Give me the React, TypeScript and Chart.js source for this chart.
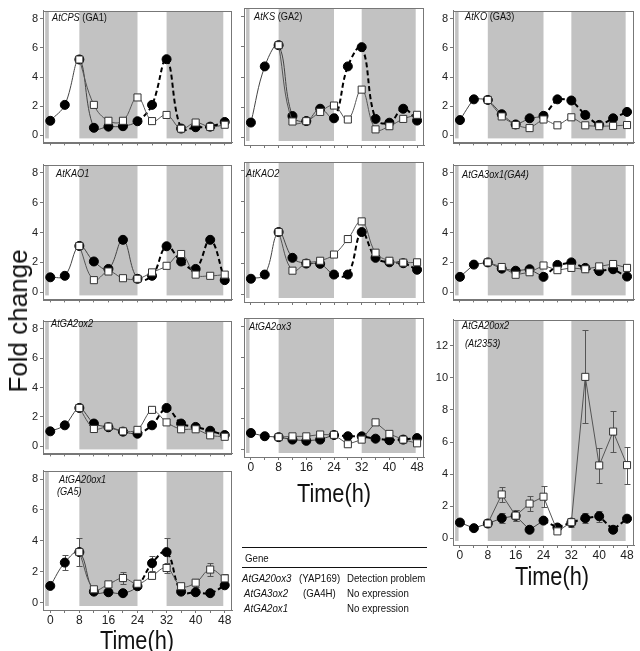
import React, { useEffect, useRef } from "react";
import { Chart, registerables } from "chart.js";
Chart.register(...registerables);

// ---------- data ----------
const hours = [0, 4, 8, 12, 16, 20, 24, 28, 32, 36, 40, 44, 48];
const hoursFrom8 = [8, 12, 16, 20, 24, 28, 32, 36, 40, 44, 48];
const xLabelHours = [0, 8, 16, 24, 32, 40, 48];
const yTicksLow = [0, 2, 4, 6, 8];
const yTicksHigh = [0, 2, 4, 6, 8, 10, 12];
const darkPeriods: [number, number][] = [[-1.4, -0.4], [8, 24], [32, 47.6]];
const dashedFrom = 24;

const cpsCircle = [1.0, 2.09, 5.2, 0.52, 0.6, 0.63, 0.97, 2.09, 5.22, 0.47, 0.56, 0.6, 0.92];
const cpsSquare = [5.2, 2.09, 1.0, 1.0, 2.6, 0.98, 1.4, 0.46, 0.88, 0.58, 0.73];

const ksCircle = [1.0, 4.7, 6.1, 1.43, 1.1, 1.91, 1.28, 4.7, 5.97, 1.24, 0.99, 1.91, 1.13];
const ksSquare = [6.1, 1.07, 1.09, 1.7, 2.12, 1.2, 3.17, 0.55, 0.76, 1.24, 1.51];

const koCircle = [1.05, 2.47, 2.43, 1.45, 0.75, 1.17, 1.34, 2.47, 2.39, 1.4, 0.72, 1.17, 1.61];
const koSquare = [2.43, 1.3, 0.71, 0.5, 1.09, 0.69, 1.24, 0.69, 0.63, 0.65, 0.71];

const kao1Circle = [1.0, 1.1, 3.1, 2.06, 1.56, 3.51, 0.9, 1.1, 3.08, 2.06, 1.56, 3.51, 0.81];
const kao1Square = [3.1, 0.81, 1.39, 0.94, 0.9, 1.33, 1.77, 2.56, 1.18, 1.1, 1.18];

const kao2Circle = [1.02, 1.29, 4.03, 2.37, 2.0, 1.98, 1.29, 1.29, 4.03, 2.37, 2.08, 2.02, 1.6];
const kao2Square = [4.03, 1.54, 2.02, 2.18, 2.58, 3.58, 4.72, 2.7, 2.18, 2.06, 2.08];

const ga3ox1Circle = [1.03, 1.85, 2.0, 1.58, 1.44, 1.54, 1.03, 1.83, 2.0, 1.63, 1.42, 1.54, 1.05];
const ga3ox1Square = [2.0, 1.69, 1.17, 1.34, 1.79, 1.48, 1.63, 1.54, 1.73, 1.89, 1.63];

const ga2ox2Circle = [1.02, 1.43, 2.61, 1.55, 1.3, 1.0, 0.86, 1.43, 2.61, 1.55, 1.32, 1.06, 0.77];
const ga2ox2Square = [2.61, 1.18, 1.34, 1.02, 1.12, 2.48, 1.63, 1.16, 1.16, 0.75, 0.65];

const ga2ox3Circle = [1.08, 0.87, 0.81, 0.65, 0.57, 0.65, 0.95, 0.87, 0.86, 0.71, 0.61, 0.65, 0.75];
const ga2ox3Square = [0.81, 0.86, 0.86, 0.98, 0.96, 0.35, 0.65, 1.77, 1.02, 0.65, 0.41];

const ga20ox1Circle = [1.08, 2.59, 3.27, 0.71, 0.67, 0.61, 1.06, 2.55, 3.27, 0.71, 0.67, 0.61, 1.12];
const ga20ox1CircleErr = [null, 0.47, null, null, null, null, null, 0.49, 0.92, null, null, null, null];
const ga20ox1Square = [3.27, 0.86, 1.18, 1.59, 1.22, 1.73, 2.24, 1.06, 1.29, 2.14, 1.57];
const ga20ox1SquareErr = [0.92, null, 0.15, 0.39, null, null, 0.3, null, 0.25, 0.41, 0.3];

const ga20ox2Circle = [0.98, 0.63, 0.92, 1.25, 1.4, 0.53, 1.1, 0.67, 0.98, 1.25, 1.37, 0.53, 1.22];
const ga20ox2CircleErr = [null, null, null, 0.3, 0.35, null, null, 0.15, 0.3, 0.3, 0.35, null, 0.1];
const ga20ox2Square = [0.92, 2.73, 1.41, 2.16, 2.59, 0.43, 1.0, 10.06, 4.54, 6.65, 4.56];
const ga20ox2SquareErr = [null, 0.45, 0.35, 0.45, 0.65, null, null, 2.9, 1.1, 1.3, 1.15];

// ---------- layout ----------
type Box = { L: number; R: number; T: number; B: number };
type PanelDef = {
  circle: number[];
  square: number[];
  circleErr?: (number | null)[];
  squareErr?: (number | null)[];
  tension: number;
  yMin: number;
  yMax: number;
  yTicks: number[];
  yLabels: boolean;
  xLabels: boolean;
  box: Box;
};

const C1 = { L: 43, R: 237 };
const C2 = { L: 242, R: 429 };
const C3 = { L: 453, R: 639 };
const R1 = { T: 3, B: 146 };
const R2 = { T: 157, B: 303 };
const R3 = { T: 313, B: 457 };

const low = { yMin: -0.48, yMax: 8.55, yTicks: yTicksLow };

const panels: PanelDef[] = [
  { circle: cpsCircle, square: cpsSquare, tension: 0.4, ...low, yLabels: true, xLabels: false, box: { ...C1, ...R1 } },
  { circle: ksCircle, square: ksSquare, tension: 0.4, ...low, yLabels: false, xLabels: false, box: { ...C2, ...R1 } },
  { circle: koCircle, square: koSquare, tension: 0.15, ...low, yLabels: true, xLabels: false, box: { ...C3, ...R1 } },
  { circle: kao1Circle, square: kao1Square, tension: 0.4, ...low, yLabels: true, xLabels: false, box: { ...C1, ...R2 } },
  { circle: kao2Circle, square: kao2Square, tension: 0.4, ...low, yLabels: false, xLabels: false, box: { ...C2, ...R2 } },
  { circle: ga3ox1Circle, square: ga3ox1Square, tension: 0, ...low, yLabels: true, xLabels: false, box: { ...C3, ...R2 } },
  { circle: ga2ox2Circle, square: ga2ox2Square, tension: 0.3, ...low, yLabels: true, xLabels: false, box: { ...C1, ...R3 } },
  { circle: ga2ox3Circle, square: ga2ox3Square, tension: 0, ...low, yLabels: false, xLabels: true, box: { ...C2, ...R3 } },
  {
    circle: ga20ox1Circle, square: ga20ox1Square, circleErr: ga20ox1CircleErr, squareErr: ga20ox1SquareErr,
    tension: 0.4, ...low, yLabels: true, xLabels: true, box: { ...C1, T: 463, B: 610 },
  },
  {
    circle: ga20ox2Circle, square: ga20ox2Square, circleErr: ga20ox2CircleErr, squareErr: ga20ox2SquareErr,
    tension: 0, yMin: -0.42, yMax: 13.63, yTicks: yTicksHigh, yLabels: true, xLabels: true, box: { ...C3, T: 312, B: 545 },
  },
];

const FONT = "'Liberation Sans', Arial, Helvetica, sans-serif";
const AXIS = "#777";

function makeDecor(p: PanelDef) {
  return {
    id: "decor",
    beforeDatasetsDraw(chart: any) {
      const { ctx, chartArea, scales } = chart;
      const x = scales.x, y = scales.y;
      ctx.save();
      ctx.fillStyle = "#c2c2c2";
      const top = chartArea.top + 1;
      const bot = chartArea.bottom - 4;
      for (const [a, b] of darkPeriods) {
        const x0 = x.getPixelForValue(a);
        const x1 = x.getPixelForValue(b);
        ctx.fillRect(x0, top, x1 - x0, bot - top);
      }
      // error bars
      ctx.strokeStyle = "#555";
      ctx.lineWidth = 1;
      const drawErr = (xs: number[], vals: number[], errs?: (number | null)[]) => {
        if (!errs) return;
        errs.forEach((e, i) => {
          if (e == null) return;
          const px = Math.round(x.getPixelForValue(xs[i])) + 0.5;
          const y0 = Math.round(y.getPixelForValue(vals[i] - e)) + 0.5;
          const y1 = Math.round(y.getPixelForValue(vals[i] + e)) + 0.5;
          ctx.beginPath();
          ctx.moveTo(px, y0); ctx.lineTo(px, y1);
          ctx.moveTo(px - 3, y0); ctx.lineTo(px + 3, y0);
          ctx.moveTo(px - 3, y1); ctx.lineTo(px + 3, y1);
          ctx.stroke();
        });
      };
      drawErr(hours, p.circle, p.circleErr);
      drawErr(hoursFrom8, p.square, p.squareErr);
      ctx.restore();
    },
    afterDraw(chart: any) {
      const { ctx, chartArea } = chart;
      ctx.save();
      ctx.strokeStyle = AXIS;
      ctx.lineWidth = 1;
      ctx.strokeRect(
        Math.round(chartArea.left) + 0.5,
        Math.round(chartArea.top) + 0.5,
        Math.round(chartArea.right - chartArea.left) - 1,
        Math.round(chartArea.bottom - chartArea.top)
      );
      ctx.restore();
    },
  };
}

function Panel({ p }: { p: PanelDef }) {
  const ref = useRef<HTMLCanvasElement>(null);
  const leftPad = p.yLabels ? 26 : 4;
  const bottomPad = p.xLabels ? 20 : 5;
  const topPad = 1;
  const rightPad = 1;
  const w = p.box.R - p.box.L + leftPad + rightPad;
  const h = p.box.B - p.box.T + topPad + bottomPad;

  useEffect(() => {
    const dashed = (c: any) => c.p0.parsed.x >= dashedFrom;
    const chart = new Chart(ref.current!, {
      type: "line",
      data: {
        datasets: [
          {
            data: hoursFrom8.map((t, i) => ({ x: t, y: p.square[i] })),
            borderColor: "#555",
            borderWidth: 1,
            tension: p.tension,
            pointStyle: "rect",
            pointRadius: 5,
            pointBackgroundColor: "#fff",
            pointBorderColor: "#333",
            pointBorderWidth: 1,
          },
          {
            data: hours.map((t, i) => ({ x: t, y: p.circle[i] })),
            borderColor: "#444",
            borderWidth: 1,
            tension: p.tension,
            pointStyle: "circle",
            pointRadius: 4.5,
            pointBackgroundColor: "#000",
            pointBorderColor: "#000",
            pointBorderWidth: 1,
            segment: {
              borderDash: (c: any) => (dashed(c) ? [5, 3] : undefined),
              borderWidth: (c: any) => (dashed(c) ? 2 : 1),
              borderColor: (c: any) => (dashed(c) ? "#000" : "#444"),
            },
          },
        ],
      } as any,
      options: {
        animation: false,
        responsive: false,
        devicePixelRatio: 1,
        layout: { padding: { top: topPad, right: rightPad, left: 0, bottom: 0 } },
        plugins: { legend: { display: false }, tooltip: { enabled: false } },
        scales: {
          x: {
            type: "linear",
            min: -2,
            max: 50,
            afterBuildTicks: (s: any) => { s.ticks = hours.map((v) => ({ value: v })); },
            afterFit: (s: any) => { s.height = bottomPad; },
            grid: { display: true, drawOnChartArea: false, drawTicks: true, tickLength: 3, color: AXIS },
            border: { display: true, color: AXIS },
            ticks: {
              display: p.xLabels,
              autoSkip: false,
              maxRotation: 0,
              padding: 0,
              color: "#222",
              font: { family: FONT, size: 12 },
              callback: (v: any) => (xLabelHours.includes(Number(v)) ? String(v) : ""),
            },
          },
          y: {
            type: "linear",
            min: p.yMin,
            max: p.yMax,
            afterBuildTicks: (s: any) => { s.ticks = p.yTicks.map((v) => ({ value: v })); },
            afterFit: (s: any) => { s.width = leftPad; },
            grid: { display: true, drawOnChartArea: false, drawTicks: true, tickLength: 3, color: AXIS },
            border: { display: true, color: AXIS },
            ticks: {
              display: p.yLabels,
              padding: 2,
              color: "#222",
              font: { family: FONT, size: 11 },
              callback: (v: any) => String(v),
            },
          },
        },
      } as any,
      plugins: [makeDecor(p)],
    });
    return () => chart.destroy();
  }, []);

  return (
    <canvas
      ref={ref}
      width={w}
      height={h}
      style={{ position: "absolute", left: p.box.L - leftPad, top: p.box.T - topPad, width: w, height: h }}
    />
  );
}

function Txt(props: {
  x: number; y: number; size: number; children: React.ReactNode;
  center?: boolean; italic?: boolean; sx?: number; rotate?: boolean;
}) {
  const { x, y, size, center, italic, sx = 1, rotate } = props;
  const tf = rotate
    ? "translate(-50%,-50%) rotate(-90deg)"
    : center
    ? `translate(-50%,-50%) scaleX(${sx})`
    : `translateY(-50%) scaleX(${sx})`;
  return (
    <div
      style={{
        position: "absolute",
        left: x,
        top: y,
        fontSize: size,
        fontFamily: FONT,
        fontStyle: italic ? "italic" : "normal",
        color: "#111",
        whiteSpace: "nowrap",
        lineHeight: 1,
        transform: tf,
        transformOrigin: rotate ? "center" : center ? "center" : "left center",
      }}
    >
      {props.children}
    </div>
  );
}

const I = ({ children }: { children: React.ReactNode }) => <span style={{ fontStyle: "italic" }}>{children}</span>;

export default function App() {
  const lbl = 10.5;
  const lsx = 0.88;
  return (
    <div style={{ position: "absolute", left: 0, top: 0, width: 640, height: 651, background: "#fff", overflow: "hidden" }}>
      {panels.map((p, i) => (
        <Panel key={i} p={p} />
      ))}

      {/* panel labels */}
      <Txt x={52} y={16.5} size={lbl} sx={lsx}><I>AtCPS</I> (GA1)</Txt>
      <Txt x={254} y={16} size={lbl} sx={lsx}><I>AtKS</I> (GA2)</Txt>
      <Txt x={465} y={16} size={lbl} sx={lsx}><I>AtKO</I> (GA3)</Txt>
      <Txt x={56} y={173} size={lbl} sx={lsx} italic>AtKAO1</Txt>
      <Txt x={246} y={172.5} size={lbl} sx={lsx} italic>AtKAO2</Txt>
      <Txt x={462} y={174} size={lbl} sx={lsx} italic>AtGA3ox1(GA4)</Txt>
      <Txt x={51} y={323} size={lbl} sx={lsx} italic>AtGA2ox2</Txt>
      <Txt x={249} y={325.5} size={lbl} sx={lsx} italic>AtGA2ox3</Txt>
      <Txt x={59} y={479} size={lbl} sx={lsx} italic>AtGA20ox1</Txt>
      <Txt x={57} y={491} size={lbl} sx={lsx} italic>(GA5)</Txt>
      <Txt x={462} y={325} size={lbl} sx={lsx} italic>AtGA20ox2</Txt>
      <Txt x={465} y={342.5} size={lbl} sx={lsx} italic>(At2353)</Txt>

      {/* axis titles */}
      <Txt x={18} y={321} size={26} rotate>Fold change</Txt>
      <Txt x={137} y={640} size={25} center sx={0.87}>Time(h)</Txt>
      <Txt x={334} y={493} size={25} center sx={0.87}>Time(h)</Txt>
      <Txt x={552} y={576} size={25} center sx={0.87}>Time(h)</Txt>

      {/* table */}
      <div style={{ position: "absolute", left: 242, top: 547, width: 185, height: 0, borderTop: "1.5px solid #111" }} />
      <div style={{ position: "absolute", left: 242, top: 566.5, width: 185, height: 0, borderTop: "1.5px solid #111" }} />
      <Txt x={245} y={558} size={10.5} sx={0.92}>Gene</Txt>
      <Txt x={242} y={577.5} size={10.5} sx={0.92} italic>AtGA20ox3</Txt>
      <Txt x={299} y={577.5} size={10.5} sx={0.92}>(YAP169)</Txt>
      <Txt x={347} y={577.5} size={10.5} sx={0.92}>Detection problem</Txt>
      <Txt x={244} y={592.5} size={10.5} sx={0.92} italic>AtGA3ox2</Txt>
      <Txt x={303} y={592.5} size={10.5} sx={0.92}>(GA4H)</Txt>
      <Txt x={347} y={592.5} size={10.5} sx={0.92}>No expression</Txt>
      <Txt x={244} y={607.5} size={10.5} sx={0.92} italic>AtGA2ox1</Txt>
      <Txt x={347} y={607.5} size={10.5} sx={0.92}>No expression</Txt>
    </div>
  );
}
